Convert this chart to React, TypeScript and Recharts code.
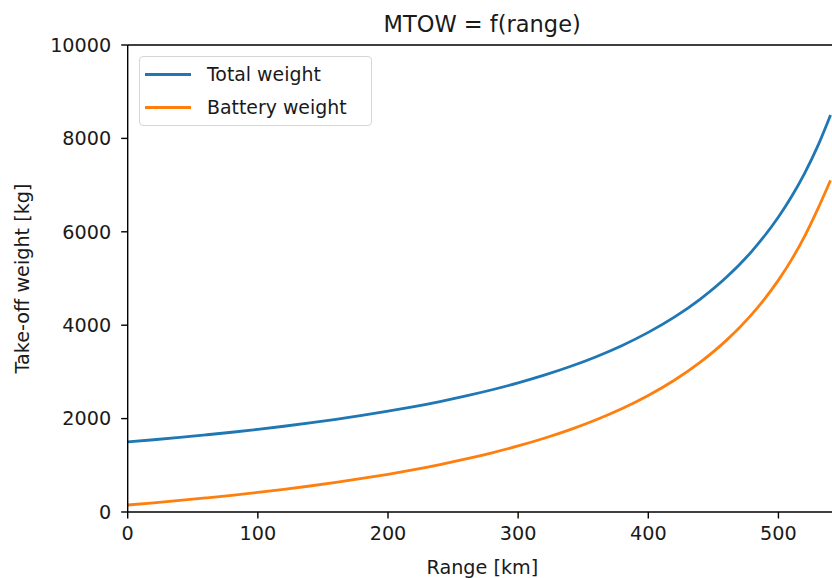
import { LineChart, Line, XAxis, YAxis, Label, ReferenceLine } from "recharts";

const rangeKm = [0, 20, 40, 60, 80, 100, 120, 140, 160, 180, 200, 220, 240, 260, 280, 300, 320, 340, 360, 380, 400, 420, 440, 460, 480, 500, 510, 520, 530, 540];
const totalWeight = [1500, 1547, 1597, 1651, 1708, 1770, 1836, 1907, 1984, 2068, 2158, 2257, 2366, 2486, 2618, 2765, 2930, 3115, 3326, 3567, 3846, 4172, 4559, 5025, 5597, 6316, 6749, 7246, 7823, 8499];
const batteryWeight = [150, 197, 247, 301, 358, 420, 486, 557, 634, 718, 808, 907, 1016, 1136, 1268, 1415, 1580, 1765, 1976, 2217, 2496, 2822, 3209, 3675, 4247, 4966, 5399, 5896, 6473, 7100];

const xTicks = [0, 100, 200, 300, 400, 500];
const yTicks = [0, 2000, 4000, 6000, 8000, 10000];

const seriesNames = ["Total weight", "Battery weight"];
const seriesColors = ["#1f77b4", "#ff7f0e"];

const data = rangeKm.map((r, i) => ({
  range: r,
  total: totalWeight[i],
  battery: batteryWeight[i],
}));

const FONT = "'DejaVu Sans', sans-serif";
const tickStyle = { fontSize: 19.2, fill: "#1a1a1a", fontFamily: FONT };

// matplotlib-style legend box, drawn over the plot
const LegendBox = () => (
  <div
    style={{
      position: "absolute",
      left: 139,
      top: 56,
      boxSizing: "border-box",
      width: 233,
      height: 70,
      border: "1px solid #d6d6d6",
      borderRadius: 4,
      background: "#fff",
      paddingTop: 1,
      paddingLeft: 5,
      fontFamily: FONT,
      fontSize: 18.9,
      color: "#1a1a1a",
    }}
  >
    {seriesNames.map((name, i) => (
      <div key={name} style={{ display: "flex", alignItems: "center", height: 32.7 }}>
        <div style={{ width: 46, height: 3, background: seriesColors[i], marginRight: 16 }} />
        <span>{name}</span>
      </div>
    ))}
  </div>
);

export default function App() {
  return (
    <div style={{ position: "absolute", left: 0, top: 0, width: 832, height: 578, overflow: "hidden", background: "#fff" }}>
      <div
        style={{
          position: "absolute",
          left: 127.7,
          top: 10,
          width: 709,
          textAlign: "center",
          fontFamily: FONT,
          fontSize: 22.5,
          color: "#1a1a1a",
          lineHeight: "28px",
        }}
      >
        MTOW = f(range)
      </div>
      <LineChart width={840} height={578} data={data} margin={{ top: 45, right: 3, bottom: 0, left: 0 }}>
        <XAxis
          dataKey="range"
          type="number"
          domain={[0, 545]}
          ticks={xTicks}
          allowDataOverflow
          height={66}
          tickSize={6.5}
          tickMargin={8}
          tick={tickStyle}
          axisLine={{ stroke: "#000", strokeWidth: 1.4 }}
          tickLine={{ stroke: "#000", strokeWidth: 1.4 }}
        >
          <Label value="Range [km]" position="insideBottom" offset={4} style={{ ...tickStyle, textAnchor: "middle" }} />
        </XAxis>
        <YAxis
          type="number"
          domain={[0, 10000]}
          ticks={yTicks}
          allowDataOverflow
          width={127.7}
          tickSize={6.5}
          tickMargin={10}
          tick={tickStyle}
          axisLine={{ stroke: "#000", strokeWidth: 1.4 }}
          tickLine={{ stroke: "#000", strokeWidth: 1.4 }}
        >
          <Label
            value="Take-off weight [kg]"
            angle={-90}
            position="insideLeft"
            offset={22}
            style={{ ...tickStyle, textAnchor: "middle" }}
          />
        </YAxis>
        <ReferenceLine y={10000} stroke="#000" strokeWidth={1.4} ifOverflow="visible" />
        <Line
          type="monotone"
          dataKey="total"
          name={seriesNames[0]}
          stroke={seriesColors[0]}
          strokeWidth={2.8}
          dot={false}
          isAnimationActive={false}
        />
        <Line
          type="monotone"
          dataKey="battery"
          name={seriesNames[1]}
          stroke={seriesColors[1]}
          strokeWidth={2.8}
          dot={false}
          isAnimationActive={false}
        />
      </LineChart>
      <LegendBox />
    </div>
  );
}
